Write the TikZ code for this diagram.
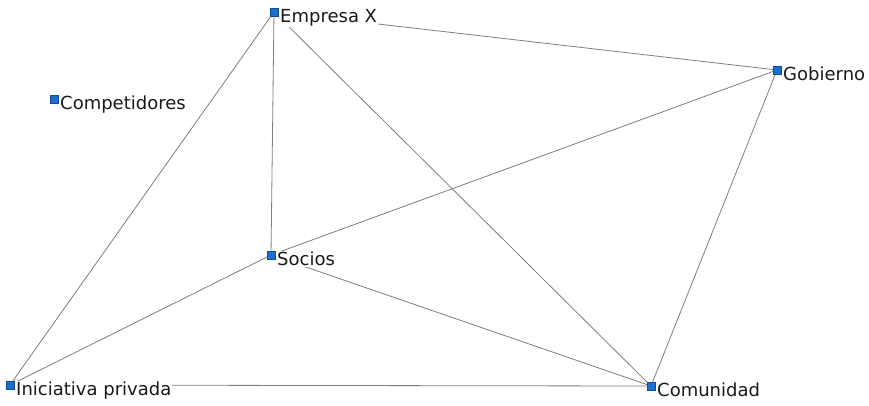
\documentclass[tikz,border=0pt]{standalone}
\usepackage{fontspec}
\setmainfont{DejaVu Sans}
\definecolor{nodeblue}{HTML}{1C6FCB}
\definecolor{nodeedge}{HTML}{0E4C93}
\definecolor{tiegray}{HTML}{7E7E7E}
\definecolor{labelink}{HTML}{1A1A1A}
\begin{document}
\begin{tikzpicture}[x=1pt,y=-1pt,
  actor/.style={rectangle,minimum size=7.5pt,inner sep=0pt,fill=nodeblue,draw=nodeedge,line width=0.4pt},
  actorlabel/.style={anchor=base west,inner sep=1pt,fill=white,text=labelink,font=\fontsize{18}{21}\selectfont},
  tie/.style={draw=tiegray,line width=0.8pt}]
\useasboundingbox (0,0) rectangle (869,405);
% actors
\node[actor] (emp) at (274,12) {};
\node[actor] (com) at (54,99) {};
\node[actor] (gob) at (777,70) {};
\node[actor] (soc) at (271,255) {};
\node[actor] (ini) at (10,385) {};
\node[actor] (cmd) at (651,386) {};
% ties
\draw[tie] (emp) -- (gob);
\draw[tie] (emp) -- (soc);
\draw[tie] (emp) -- (ini);
\draw[tie] (emp) -- (cmd);
\draw[tie] (gob) -- (soc);
\draw[tie] (gob) -- (cmd);
\draw[tie] (soc) -- (ini);
\draw[tie] (soc) -- (cmd);
\draw[tie] (ini) -- (cmd);
% labels drawn over the ties, baseline just below each square
\node[actorlabel] at ([xshift=5pt,yshift=-10.5pt]emp.center) {Empresa X};
\node[actorlabel] at ([xshift=5pt,yshift=-10.5pt]com.center) {Competidores};
\node[actorlabel] at ([xshift=5pt,yshift=-10.5pt]gob.center) {Gobierno};
\node[actorlabel] at ([xshift=5pt,yshift=-10.5pt]soc.center) {Socios};
\node[actorlabel] at ([xshift=5pt,yshift=-10.5pt]ini.center) {Iniciativa privada};
\node[actorlabel] at ([xshift=5pt,yshift=-10.5pt]cmd.center) {Comunidad};
% redraw the squares on top
\foreach \n in {emp,com,gob,soc,ini,cmd} \node[actor] at (\n) {};
\end{tikzpicture}
\end{document}
